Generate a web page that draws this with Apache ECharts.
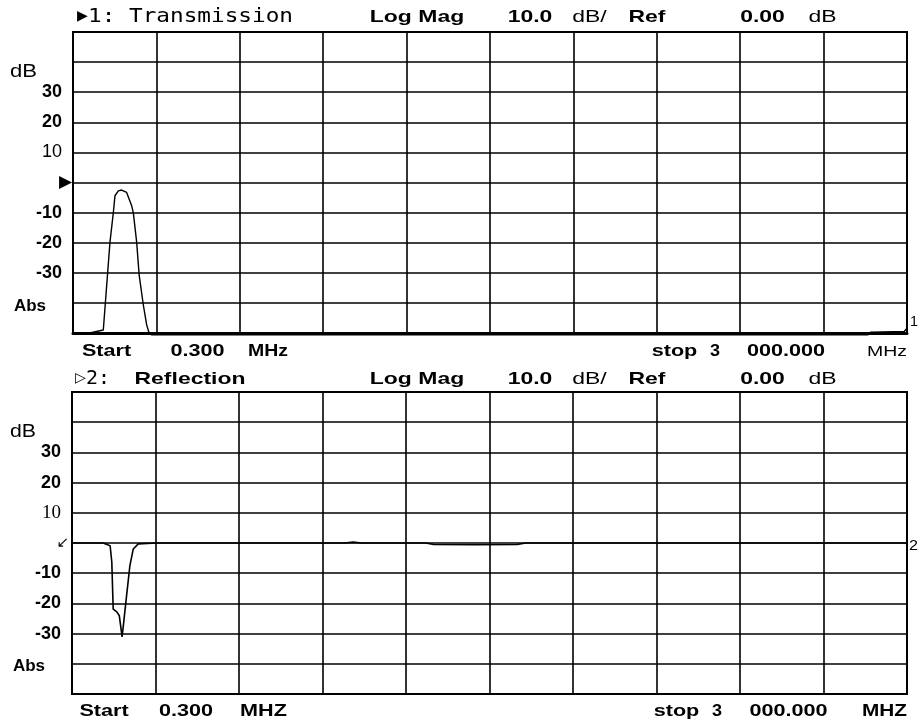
<!DOCTYPE html>
<html><head><meta charset="utf-8">
<script src="https://cdn.jsdelivr.net/npm/echarts@6/dist/echarts.min.js"></script>
<style>html,body{margin:0;padding:0;background:#fff}#c{width:921px;height:724px}</style>
</head><body><div id="c"></div>
<script>
// ---- data ----
const txFreqMHz = [0.3, 60, 109, 133, 145, 151, 163, 175, 193, 211, 217, 229, 238, 253, 265, 274, 283, 1500, 2777, 2860, 2870, 2990, 3000];
const txMagDb   = [-50, -50, -49, -19.8, -10.1, -4.4, -2.8, -2.5, -3.3, -7.7, -10.1, -19.8, -30.8, -40.7, -47.3, -50.1, -50.6, -50.6, -50.6, -50.6, -49.7, -49.5, -48.4];
const rxFreqMHz = [0.3, 112, 137, 143, 148, 161, 170, 180, 187, 196, 208, 220, 238, 304, 980, 1010, 1040, 1270, 1300, 1450, 1600, 1630, 3000];
const rxMagDb   = [0, 0, -0.9, -6.3, -21.9, -22.8, -24.1, -31.1, -25.2, -17.5, -7.5, -2, -0.3, 0, 0, 0.3, 0, 0, -0.5, -0.6, -0.5, 0, 0];
const yTickValues   = [30, 20, 10, 0, -10, -20, -30, -40];
const txTickLabels  = ['30', '20', '10', '▶', '-10', '-20', '-30', 'Abs'];
const rxTickLabels  = ['30', '20', '10', '↙', '-10', '-20', '-30', 'Abs'];
const xStartMHz = 0, xStopMHz = 3000, xStepMHz = 300;
const yMinDb = -50, yMaxDb = 50, yStepDb = 10;

// ---- helpers ----
const SANS = "'Liberation Sans', Arial, sans-serif";
const MONO = "'DejaVu Sans Mono', monospace";
const SERIF = "'Liberation Serif', serif";
const mctx = document.createElement('canvas').getContext('2d');
function word(text, x1, x2, y, opt) {
  const size = opt.size || 17, weight = opt.weight || 'normal', fam = opt.family || SANS;
  mctx.font = weight + ' ' + size + 'px ' + fam;
  const w = mctx.measureText(text).width;
  const sx = Math.min((x2 - x1) / w, opt.maxScale || 1.35);
  const x = (x1 + x2) / 2 - w * sx / 2;
  return {type: 'text', x: x, y: y, scaleX: sx, silent: true,
    style: {text: text, fontSize: size, fontWeight: weight, fontFamily: fam, fill: '#000', align: 'left', verticalAlign: 'middle'}};
}
function labelFmt(labels, tenFont) {
  return function (v) {
    const i = yTickValues.indexOf(v);
    if (i < 0) return '';
    const s = labels[i];
    if (s === 'Abs') return '{abs|' + s + '}';
    if (s === '▶') return '{mk|' + s + '}';
    if (s === '↙') return '{mk2|' + s + '}';
    if (s === '10') return '{' + tenFont + '|' + s + '}';
    return '{b|' + s + '}';
  };
}
const rich = {
  b: {fontFamily: SANS, fontWeight: 'bold', fontSize: 18, padding: [0, 10, 0, 0], color: '#000'},
  thin: {fontFamily: SANS, fontWeight: 'normal', fontSize: 18, padding: [0, 10, 0, 0], color: '#000'},
  serif: {fontFamily: SERIF, fontWeight: 'normal', fontSize: 19, padding: [0, 10, 0, 0], color: '#000'},
  mk: {fontFamily: "'DejaVu Sans', sans-serif", fontSize: 17, padding: [0, 0, 0, 0], color: '#000'},
  mk2: {fontFamily: "'DejaVu Sans', sans-serif", fontSize: 15, padding: [0, 2, 0, 0], color: '#000'},
  abs: {fontFamily: SANS, fontWeight: 'bold', fontSize: 17, padding: [6, 26, 0, 0], color: '#000'}
};

const gridLine = {show: true, lineStyle: {color: '#000', width: 1.6}};
function xAx(gi, bottomW) {
  return {type: 'value', gridIndex: gi, min: xStartMHz, max: xStopMHz, interval: xStepMHz,
    axisLabel: {show: false}, axisTick: {show: false},
    axisLine: {show: true, onZero: false, lineStyle: {color: '#000', width: bottomW}},
    splitLine: gridLine};
}
function yAx(gi, labels, tenFont) {
  return {type: 'value', gridIndex: gi, min: yMinDb, max: yMaxDb, interval: yStepDb,
    axisTick: {show: false}, axisLine: {show: false},
    axisLabel: {show: true, margin: 1, formatter: labelFmt(labels, tenFont), rich: rich},
    splitLine: gridLine};
}
const zip = (a, b) => a.map((v, i) => [v, b[i]]);

const graphics = [
  // top header
  {type: 'text', x: 77, y: 16, silent: true, style: {text: '▶', fontSize: 14, fontFamily: "'DejaVu Sans', sans-serif", fill: '#000', verticalAlign: 'middle'}},
  word('1: Transmission', 88, 293, 17, {family: MONO, size: 19}),
  word('Log Mag', 367, 467, 17, {weight: 'bold'}),
  word('10.0', 500, 560, 17, {weight: 'bold'}),
  word('dB/', 572, 607, 17, {}),
  word('Ref', 612, 682, 17, {weight: 'bold'}),
  word('0.00', 732, 793, 17, {weight: 'bold'}),
  word('dB', 805, 840, 17, {}),
  word('dB', 10, 37, 72, {size: 18}),
  // top footer
  word('Start', 73, 140, 352, {weight: 'bold', size: 16}),
  word('0.300', 164, 231, 352, {weight: 'bold', size: 16}),
  word('MHz', 248, 288, 352, {weight: 'bold', size: 16}),
  word('stop', 648, 701, 352, {weight: 'bold', size: 16}),
  word('3', 710, 720, 352, {weight: 'bold', size: 16}),
  word('000.000', 724, 848, 352, {weight: 'bold', size: 16}),
  word('MHz', 867, 907, 352, {size: 15}),
  word('1', 910, 918, 322, {size: 15}),
  // bottom header
  {type: 'text', x: 75, y: 378, silent: true, style: {text: '▷', fontSize: 14, fontFamily: "'DejaVu Sans', sans-serif", fill: '#000', verticalAlign: 'middle'}},
  word('2:', 86, 110, 379, {family: MONO, size: 19}),
  word('Reflection', 120, 260, 379, {weight: 'bold'}),
  word('Log Mag', 367, 467, 379, {weight: 'bold'}),
  word('10.0', 500, 560, 379, {weight: 'bold'}),
  word('dB/', 572, 607, 379, {}),
  word('Ref', 612, 682, 379, {weight: 'bold'}),
  word('0.00', 732, 793, 379, {weight: 'bold'}),
  word('dB', 805, 840, 379, {}),
  word('dB', 10, 36, 432, {size: 18}),
  // bottom footer
  word('Start', 73, 135, 712, {weight: 'bold', size: 16}),
  word('0.300', 152, 220, 712, {weight: 'bold', size: 16}),
  word('MHZ', 237, 290, 712, {weight: 'bold', size: 16}),
  word('stop', 648, 705, 712, {weight: 'bold', size: 16}),
  word('3', 712, 722, 712, {weight: 'bold', size: 16}),
  word('000.000', 727, 850, 712, {weight: 'bold', size: 16}),
  word('MHZ', 862, 907, 712, {weight: 'bold', size: 16}),
  word('2', 909, 918, 546, {size: 15})
];

const chart = echarts.init(document.getElementById('c'), null, {renderer: 'canvas'});
chart.setOption({
  animation: false,
  backgroundColor: '#fff',
  grid: [
    {left: 73, top: 32, width: 834, height: 301, show: true, borderColor: '#000', borderWidth: 2, containLabel: false},
    {left: 72, top: 392, width: 835, height: 302, show: true, borderColor: '#000', borderWidth: 2, containLabel: false}
  ],
  xAxis: [xAx(0, 3), xAx(1, 2)],
  yAxis: [yAx(0, txTickLabels, 'thin'), yAx(1, rxTickLabels, 'serif')],
  series: [
    {type: 'line', xAxisIndex: 0, yAxisIndex: 0, data: zip(txFreqMHz, txMagDb), showSymbol: false, clip: false,
      lineStyle: {color: '#000', width: 1.4}},
    {type: 'line', xAxisIndex: 1, yAxisIndex: 1, data: zip(rxFreqMHz, rxMagDb), showSymbol: false, clip: false,
      lineStyle: {color: '#000', width: 1.6}}
  ],
  graphic: graphics
});
</script></body></html>
